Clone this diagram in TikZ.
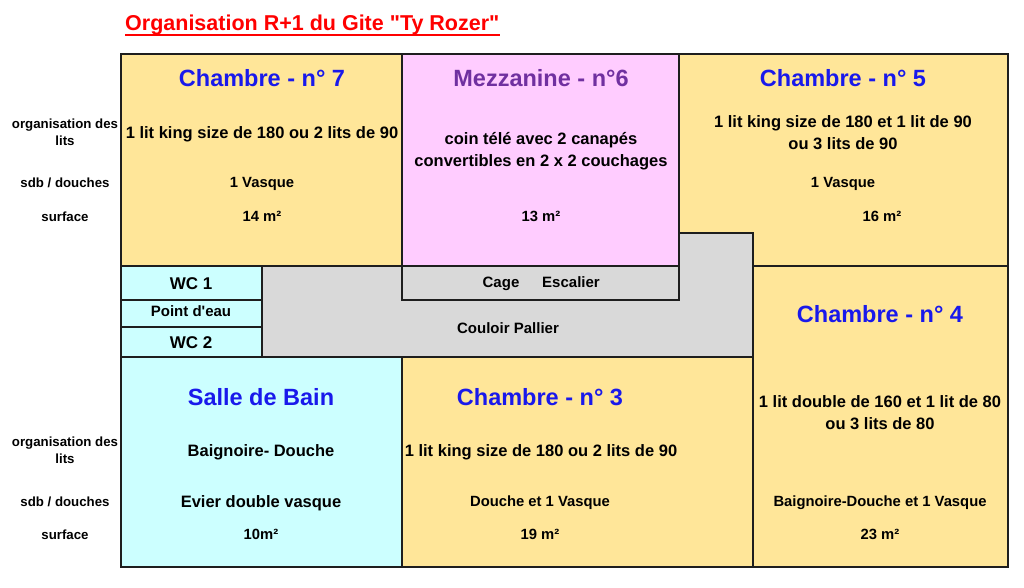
\documentclass[tikz,border=0pt]{standalone}
\usepackage{fontspec}
\setmainfont{Liberation Sans}
\newfontfamily\plainfont{Liberation Sans}
\definecolor{roomyel}{RGB}{255,230,153}
\definecolor{roompink}{RGB}{255,204,255}
\definecolor{roomcyan}{RGB}{204,255,255}
\definecolor{roomgrey}{RGB}{217,217,217}
\definecolor{linec}{RGB}{30,30,30}
\definecolor{headblue}{RGB}{25,25,235}
\definecolor{headpurple}{RGB}{112,48,160}
\definecolor{titlered}{RGB}{255,0,0}
\tikzset{
  wall/.style={draw=linec, line width=2pt, line join=miter},
  txt/.style={anchor=base, inner sep=0pt},
  head/.style={txt, font=\bfseries\fontsize{23.5}{28}\selectfont, text=headblue},
  bigtxt/.style={txt, font=\bfseries\fontsize{16.5}{22}\selectfont},
  smalltxt/.style={txt, font=\bfseries\fontsize{14.8}{18}\selectfont},
  labtxt/.style={txt, font=\bfseries\fontsize{13.25}{18}\selectfont},
  midtxt/.style={txt, font=\bfseries\fontsize{15}{18}\selectfont},
  wctxt/.style={txt, font=\bfseries\fontsize{17}{20}\selectfont},
}
\begin{document}
\begin{tikzpicture}[x=1pt,y=-1pt]
\useasboundingbox (0,0) rectangle (1024,587);
% title
\node[anchor=base west, inner sep=0pt, text=titlered, font=\plainfont\bfseries\fontsize{21.5}{24}\selectfont] (ttl) at (125,30) {Organisation R+1 du Gite "Ty Rozer"};
\draw[titlered, line width=2pt] ([yshift=-4.5pt]ttl.base west) -- ([yshift=-4.5pt]ttl.base east);
% rooms
\path[wall, fill=roomyel] (121,54) rectangle (402,266);
\path[wall, fill=roompink] (402,54) rectangle (679,266);
\path[wall, fill=roomyel] (679,54) -- (1008,54) -- (1008,266) -- (753,266) -- (753,233) -- (679,233) -- cycle;
\path[wall, fill=roomgrey] (262,266) -- (679,266) -- (679,233) -- (753,233) -- (753,357) -- (262,357) -- cycle;
\path[wall, fill=roomgrey] (402,266) rectangle (679,300);
\path[wall, fill=roomcyan] (121,266) rectangle (262,300);
\path[wall, fill=roomcyan] (121,300) rectangle (262,327);
\path[wall, fill=roomcyan] (121,327) rectangle (262,357);
\path[wall, fill=roomcyan] (121,357) rectangle (402,567);
\path[wall, fill=roomyel] (402,357) rectangle (753,567);
\path[wall, fill=roomyel] (753,266) rectangle (1008,567);
\draw[wall] (121,54) rectangle (1008,567);
% left labels
\node[labtxt] (lorg1a) at (65,128.3) {organisation des};
\node[labtxt] (lorg1b) at (65,145.7) {lits};
\node[labtxt] (lsdb1) at (65,187.5) {sdb / douches};
\node[labtxt] (lsur1) at (65,221.5) {surface};
\node[labtxt] (lorg2a) at (65,446.7) {organisation des};
\node[labtxt] (lorg2b) at (65,463.7) {lits};
\node[labtxt] (lsdb2) at (65,506.7) {sdb / douches};
\node[labtxt] (lsur2) at (65,539.3) {surface};
% chambre 7
\node[head] (c7h) at (262,86) {Chambre - n° 7};
\node[bigtxt] (c7l) at (262,138) {1 lit king size de 180 ou 2 lits de 90};
\node[smalltxt] (c7s) at (262,187.5) {1 Vasque};
\node[smalltxt] (c7m) at (262,221.5) {14 m²};
% mezzanine
\node[head, text=headpurple] (mzh) at (541,86) {Mezzanine - n°6};
\node[bigtxt] (mzla) at (541,144) {coin télé avec 2 canapés};
\node[bigtxt] (mzlb) at (541,166) {convertibles en 2 x 2 couchages};
\node[smalltxt] (mzm) at (541,221.5) {13 m²};
% chambre 5
\node[head] (c5h) at (843,86) {Chambre - n° 5};
\node[bigtxt] (c5la) at (843,127) {1 lit king size de 180 et 1 lit de 90};
\node[bigtxt] (c5lb) at (843,149.5) {ou 3 lits de 90};
\node[smalltxt] (c5s) at (843,187.5) {1 Vasque};
\node[smalltxt] (c5m) at (882,221.5) {16 m²};
% cage / couloir
\node[midtxt] (cage) at (501,287.7) {Cage};
\node[midtxt] (esc) at (571,287.7) {Escalier};
\node[midtxt] (coul) at (508,333) {Couloir Pallier};
% wc
\node[wctxt] (wc1) at (191,289.3) {WC 1};
\node[midtxt, font=\plainfont\bfseries\fontsize{15}{18}\selectfont] (pte) at (191,316.7) {Point d'eau};
\node[wctxt] (wc2) at (191,348.7) {WC 2};
% chambre 4
\node[head] (c4h) at (880,322.5) {Chambre - n° 4};
\node[bigtxt] (c4la) at (880,407) {1 lit double de 160 et 1 lit de 80};
\node[bigtxt] (c4lb) at (880,429.3) {ou 3 lits de 80};
\node[smalltxt] (c4s) at (880,506.7) {Baignoire-Douche et 1 Vasque};
\node[smalltxt] (c4m) at (880,539.3) {23 m²};
% salle de bain
\node[head] (sdbh) at (261,405.7) {Salle de Bain};
\node[bigtxt] (sdbl) at (261,456.7) {Baignoire- Douche};
\node[bigtxt] (sdbs) at (261,507.7) {Evier double vasque};
\node[smalltxt] (sdbm) at (261,539.3) {10m²};
% chambre 3
\node[head] (c3h) at (540,405.7) {Chambre - n° 3};
\node[bigtxt] (c3l) at (541,456.7) {1 lit king size de 180 ou 2 lits de 90};
\node[smalltxt] (c3s) at (540,506.7) {Douche et 1 Vasque};
\node[smalltxt] (c3m) at (540,539.3) {19 m²};
\end{tikzpicture}
\end{document}
